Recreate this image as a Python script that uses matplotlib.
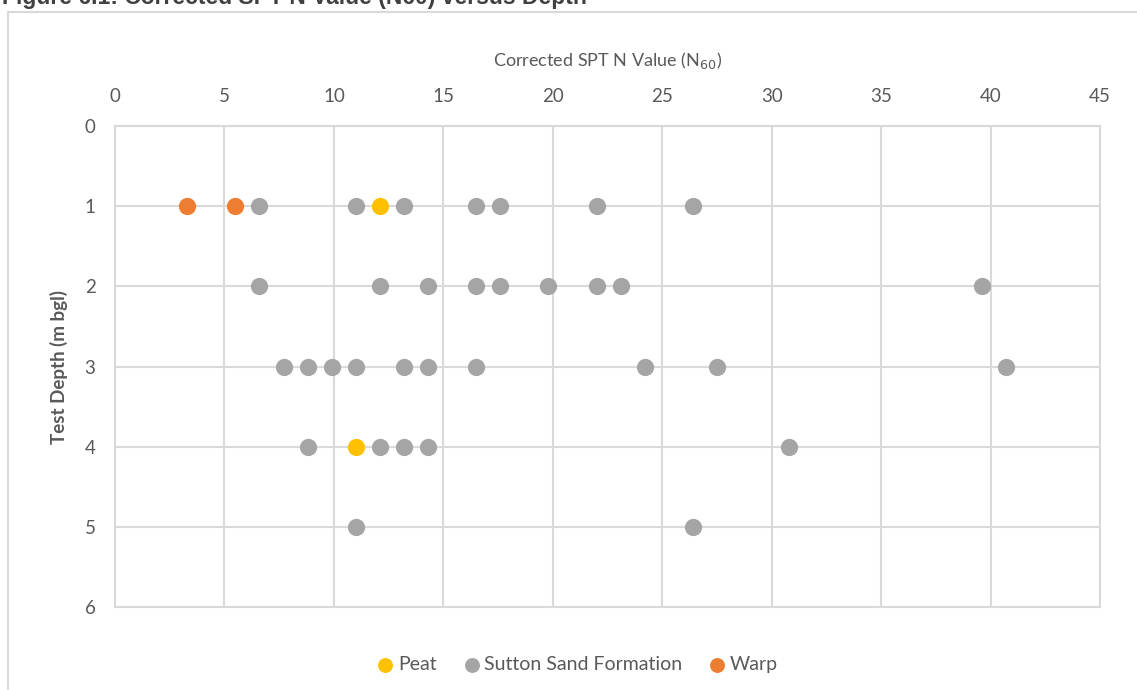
import matplotlib.pyplot as plt
from matplotlib.lines import Line2D

plt.rcParams['font.family'] = ['Lato', 'DejaVu Sans']

# Corrected SPT N values (N60) and test depths
peat_n = [12.1, 11.0]
peat_depth = [1, 4]

sand_n = [6.6, 11.0, 13.2, 16.5, 17.6, 22.0, 26.4,
          6.6, 12.1, 14.3, 16.5, 17.6, 19.8, 22.0, 23.1, 39.6,
          7.7, 8.8, 9.9, 11.0, 13.2, 14.3, 16.5, 24.2, 27.5, 40.7,
          8.8, 12.1, 13.2, 14.3, 30.8,
          11.0, 26.4]
sand_depth = [1] * 7 + [2] * 9 + [3] * 10 + [4] * 5 + [5] * 2

warp_n = [3.3, 5.5]
warp_depth = [1, 1]

x_ticks = [0, 5, 10, 15, 20, 25, 30, 35, 40, 45]
y_ticks = [0, 1, 2, 3, 4, 5, 6]

text_col = '#595959'
grid_col = '#d9d9d9'

fig = plt.figure(figsize=(11.37, 6.90), dpi=100)
ax = fig.add_axes([115 / 1137, 1 - 607 / 690, 985 / 1137, 481 / 690])

ms = 130
ax.scatter(peat_n, peat_depth, s=ms, color='#FFC000', zorder=3, label='Peat')
ax.scatter(sand_n, sand_depth, s=ms, color='#A5A5A5', zorder=3, label='Sutton Sand Formation')
ax.scatter(warp_n, warp_depth, s=ms, color='#ED7D31', zorder=3, label='Warp')

ax.set_xlim(0, 45)
ax.set_ylim(6, 0)
ax.set_xticks(x_ticks)
ax.set_yticks(y_ticks)
ax.xaxis.tick_top()
ax.xaxis.set_label_position('top')
ax.tick_params(length=0, labelsize=13.5, colors=text_col, pad=14)
ax.tick_params(axis='x', pad=15)
ax.grid(True, color=grid_col, linewidth=1.5)
ax.set_axisbelow(True)
for s in ax.spines.values():
    s.set_color(grid_col)
    s.set_linewidth(1.5)

ax.set_xlabel('Corrected SPT N Value (N$_{60}$)', fontsize=13, color=text_col, labelpad=16)
ax.set_ylabel('Test Depth (m bgl)', fontsize=13.5, color=text_col, fontweight='bold', labelpad=12)

ax.legend(loc='upper center', bbox_to_anchor=(0.47, -0.065), ncol=3, frameon=False,
          fontsize=14, labelcolor=text_col, handlelength=0.8, handletextpad=0.25,
          columnspacing=1.4, markerscale=0.85)

# chart frame and cut-off caption above it
fig.add_artist(Line2D([8 / 1137, 8 / 1137], [0, 1 - 12 / 690], color=grid_col, linewidth=1.5))
fig.add_artist(Line2D([8 / 1137, 1], [1 - 12 / 690, 1 - 12 / 690], color=grid_col, linewidth=1.5))
fig.text(2 / 1137, 1 - 4 / 690, 'Figure 6.1: Corrected SPT N Value (N60) versus Depth',
         fontsize=16.5, fontweight='bold', color='#404040', family='Liberation Sans',
         va='baseline', ha='left')

fig.savefig('out.png', dpi=100)
